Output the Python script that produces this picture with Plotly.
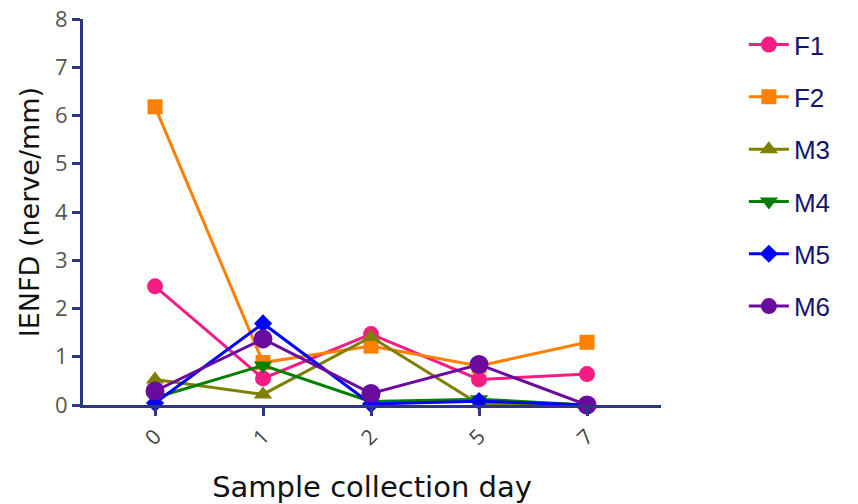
import plotly.graph_objects as go

days = ["0", "1", "2", "5", "7"]
series_names = ["F1", "F2", "M3", "M4", "M5", "M6"]
F1 = [2.46, 0.55, 1.47, 0.53, 0.64]
F2 = [6.18, 0.88, 1.22, 0.81, 1.30]
M3 = [0.53, 0.22, 1.41, 0.02, 0.0]
M4 = [0.15, 0.82, 0.07, 0.12, 0.0]
M5 = [0.04, 1.69, 0.02, 0.08, 0.0]
M6 = [0.29, 1.37, 0.24, 0.84, 0.0]
values = [F1, F2, M3, M4, M5, M6]

colors = ["#F51C84", "#FF8000", "#808000", "#008000", "#0000FF", "#6B0A9E"]
symbols = ["circle", "square", "triangle-up", "triangle-down", "diamond", "circle"]
sizes = [16, 15, 16, 16, 14, 19]

axis_color = "#2E3582"

fig = go.Figure()
for name, vals, c, s, sz in zip(series_names, values, colors, symbols, sizes):
    fig.add_trace(go.Scatter(
        x=days, y=vals, name=name, mode="lines+markers",
        line=dict(color=c, width=3),
        marker=dict(color=c, symbol=s, size=sz),
        cliponaxis=False, legendgroup=name,
    ))

fig.update_layout(
    width=858, height=504,
    margin=dict(l=83, r=197, t=19, b=99, autoexpand=False),
    plot_bgcolor="white", paper_bgcolor="white",
    showlegend=True,
    legend=dict(
        xref="container", yref="container",
        x=0.867, y=0.958, xanchor="left", yanchor="top",
        font=dict(family="Liberation Sans, Arial", size=26, color="#14146E"),
        tracegroupgap=15.5, itemwidth=40, maxheight=1.0,
        bgcolor="rgba(0,0,0,0)",
    ),
    xaxis=dict(
        type="category", range=[-0.667, 4.685],
        showline=True, linecolor=axis_color, linewidth=3,
        ticks="outside", tickcolor=axis_color, tickwidth=3, ticklen=8,
        tickangle=-45, showgrid=False, zeroline=False,
        tickfont=dict(family="Open Sans", size=21, color="#444444"),
        title=dict(text="Sample collection day",
                   font=dict(family="DejaVu Sans", size=29, color="#111111"),
                   standoff=28),
    ),
    yaxis=dict(
        range=[0, 8], dtick=1,
        showline=True, linecolor=axis_color, linewidth=3,
        ticks="outside", tickcolor=axis_color, tickwidth=3, ticklen=8,
        showgrid=False, zeroline=False, ticklabeloverflow="allow",
        tickfont=dict(family="Open Sans", size=22, color="#555555"),
        title=dict(text="IENFD (nerve/mm)",
                   font=dict(family="DejaVu Sans", size=27, color="#111111"),
                   standoff=8),
    ),
)

fig.write_html("out.html", config={"displayModeBar": False},
               post_script="document.body.style.margin='0';")
